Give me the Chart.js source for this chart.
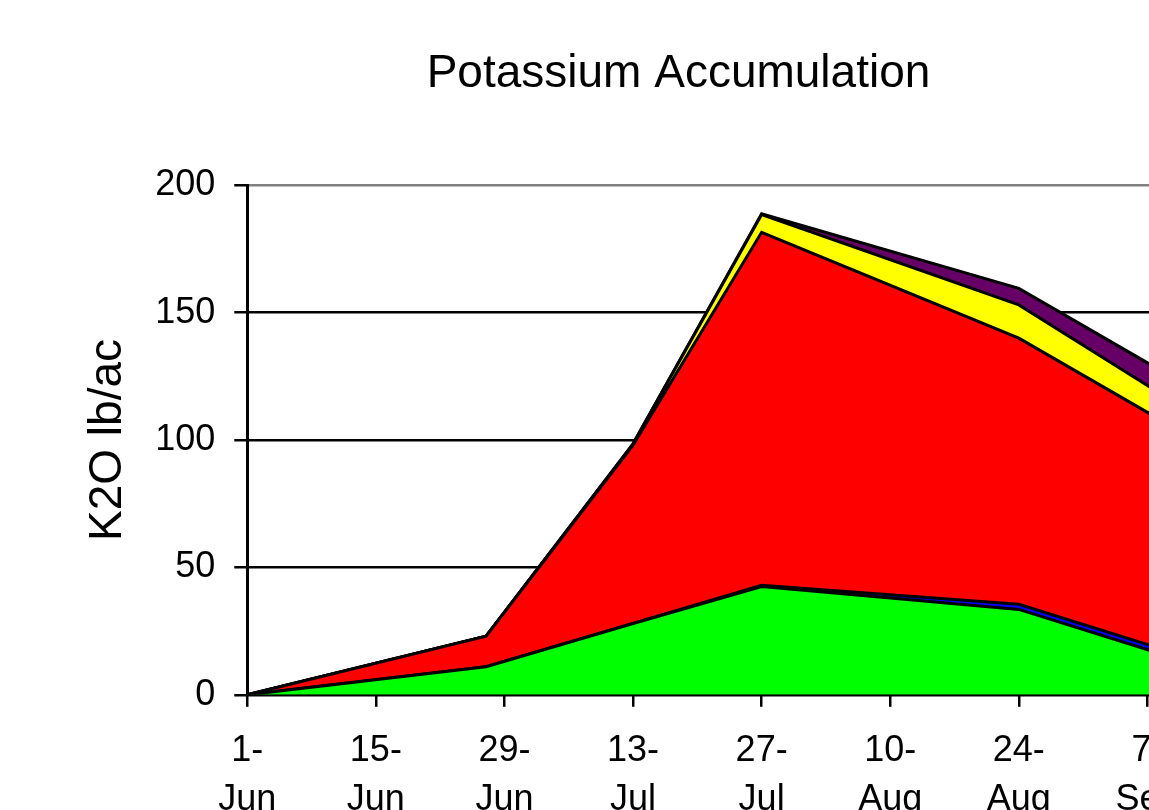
<!DOCTYPE html>
<html>
<head>
<meta charset="utf-8">
<script src="https://cdn.jsdelivr.net/npm/chart.js@4.4.1/dist/chart.umd.min.js"></script>
<style>
  html, body { margin: 0; padding: 0; background: #fff; overflow: hidden; }
  #wrap { width: 1149px; height: 810px; overflow: hidden; }
</style>
</head>
<body>
<div id="wrap"><canvas id="potassiumChart" width="1356" height="870"></canvas></div>
<script>
// sample dates and stacked K2O values (lb/ac), bottom layer first
const sampleDates = ["1-Jun", "27-Jun", "13-Jul", "27-Jul", "24-Aug", "8-Sep"];
const greenValues = [0, 11, 28, 42.5, 33.5, 16.6];
const blueValues = [0, 0, 0, 0.5, 2, 2];
const redValues = [0, 12, 70, 138.5, 104.5, 90.2];
const yellowValues = [0, 0, 0.5, 7, 13, 10.3];
const purpleValues = [0, 0, 0, 0.3, 6.5, 9.1];

const tickLabels = ["1-Jun", "15-Jun", "29-Jun", "13-Jul", "27-Jul", "10-Aug", "24-Aug", "7-Sep", "21-Sep"];
const yTicks = [0, 50, 100, 150, 200];

// days since 1-Jun
const monthStart = { Jun: 0, Jul: 30, Aug: 61, Sep: 92, Oct: 122 };
function dayOf(label) {
  const parts = label.split("-");
  return monthStart[parts[1]] + Number(parts[0]) - 1;
}
const days = sampleDates.map(dayOf);

function points(values) {
  return values.map((v, i) => ({ x: days[i], y: v }));
}

const fontFamily = "'Liberation Sans', Arial, sans-serif";

function layer(values, color, fill) {
  return {
    data: points(values),
    backgroundColor: color,
    borderColor: "#000000",
    borderWidth: 3,
    pointRadius: 0,
    tension: 0,
    fill: fill,
  };
}

const ctx = document.getElementById("potassiumChart").getContext("2d");
new Chart(ctx, {
  type: "line",
  data: {
    datasets: [
      layer(greenValues, "#00ff00", "origin"),
      layer(blueValues, "#0000ff", "-1"),
      layer(redValues, "#ff0000", "-1"),
      layer(yellowValues, "#ffff00", "-1"),
      layer(purpleValues, "#660066", "-1"),
    ],
  },
  options: {
    responsive: false,
    animation: false,
    layout: { padding: { left: 81, right: 80, top: 0, bottom: 26 } },
    plugins: {
      legend: { display: false },
      tooltip: { enabled: false },
      title: {
        display: true,
        text: "Potassium Accumulation",
        color: "#000",
        font: { family: fontFamily, size: 46, weight: "normal" },
        padding: { top: 47, bottom: 83 },
      },
    },
    scales: {
      x: {
        type: "linear",
        min: 0,
        max: 112,
        afterBuildTicks: (scale) => {
          scale.ticks = tickLabels.map((t) => ({ value: dayOf(t) }));
        },
        ticks: {
          color: "#000",
          font: { family: fontFamily, size: 36, lineHeight: 1.35 },
          padding: 20,
          maxRotation: 0,
          autoSkip: false,
          callback: (value, index) => {
            const parts = tickLabels[index].split("-");
            return [parts[0] + "-", parts[1]];
          },
        },
        grid: {
          drawOnChartArea: false,
          drawTicks: true,
          tickLength: 12,
          color: "#000",
          lineWidth: 2.5,
        },
        border: { color: "#000", width: 3 },
      },
      y: {
        stacked: true,
        min: 0,
        max: 200,
        afterBuildTicks: (scale) => {
          scale.ticks = yTicks.map((v) => ({ value: v }));
        },
        ticks: {
          color: "#000",
          font: { family: fontFamily, size: 36 },
          padding: 19,
        },
        grid: {
          color: (c) => (c.tick && c.tick.value === 200 ? "#808080" : "#000"),
          tickColor: "#000",
          lineWidth: 2.5,
          tickLength: 13,
        },
        border: { color: "#000", width: 3 },
        title: {
          display: true,
          text: "K2O lb/ac",
          color: "#000",
          font: { family: fontFamily, size: 46 },
          padding: { top: 0, bottom: 0 },
        },
      },
    },
  },
});
</script>
</body>
</html>
